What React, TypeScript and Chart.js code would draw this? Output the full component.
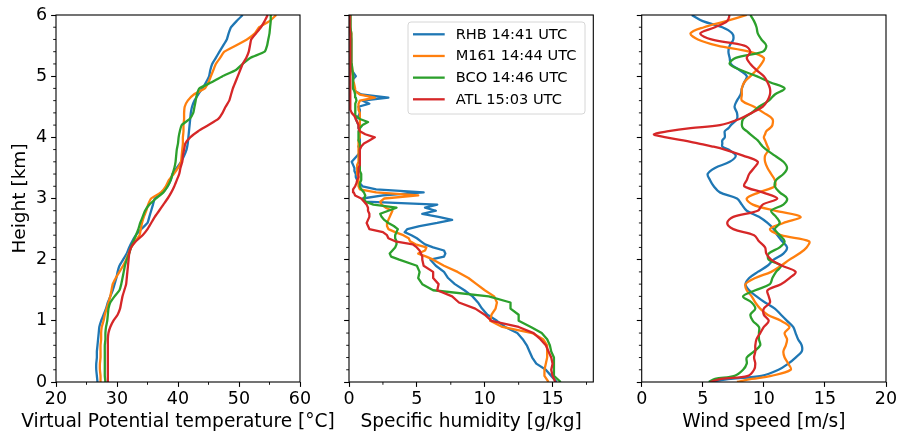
import React, { useEffect, useRef } from "react";
import { Chart, registerables } from "chart.js";

Chart.register(...registerables);

// ---------- data ----------
const SERIES_LABELS = ["RHB 14:41 UTC", "M161 14:44 UTC", "BCO 14:46 UTC", "ATL 15:03 UTC"];
const SERIES_COLORS = ["#1f77b4", "#ff7f0e", "#2ca02c", "#d62728"];

// panel 1: virtual potential temperature [°C]
const H1 = [0, 0.1, 0.2, 0.3, 0.4, 0.5, 0.6, 0.7, 0.8, 0.9, 1.0, 1.1, 1.2, 1.3, 1.4, 1.5, 1.6, 1.7, 1.8, 1.9,
  2.0, 2.1, 2.2, 2.3, 2.4, 2.5, 2.6, 2.7, 2.8, 2.9, 3.0, 3.1, 3.2, 3.3, 3.4, 3.5, 3.6, 3.7, 3.8, 3.9,
  4.0, 4.1, 4.2, 4.3, 4.4, 4.5, 4.6, 4.7, 4.8, 4.9, 5.0, 5.1, 5.2, 5.3, 5.4, 5.5, 5.6, 5.7, 5.8, 5.9, 6.0];
const THETA_RHB = [26.8, 26.7, 26.6, 26.6, 26.7, 26.7, 26.8, 26.9, 27.0, 27.1, 27.4, 27.8, 28.2, 28.5, 28.9, 29.3, 29.6, 29.9, 30.1, 30.4,
  31.0, 31.6, 32.0, 32.5, 33.1, 34.0, 35.0, 35.3, 35.6, 35.9, 36.2, 37.5, 38.3, 38.8, 39.1, 39.8, 40.5, 41.0, 41.4, 41.6,
  41.7, 41.8, 41.9, 42.0, 42.1, 42.3, 42.7, 43.3, 44.0, 44.6, 45.1, 45.3, 45.6, 46.2, 46.8, 47.4, 48.0, 48.3, 48.7, 49.6, 50.6];
const THETA_M161 = [27.3, 27.3, 27.2, 27.2, 27.3, 27.3, 27.3, 27.4, 27.4, 27.5, 27.8, 28.0, 28.3, 28.6, 28.9, 29.1, 29.3, 29.8, 30.4, 31.0,
  31.5, 31.9, 32.3, 33.0, 33.7, 33.9, 34.1, 34.4, 34.8, 35.1, 35.6, 37.2, 38.0, 38.5, 39.3, 40.0, 40.5, 40.6, 40.7, 40.8,
  40.8, 40.9, 40.9, 41.0, 41.0, 41.1, 41.6, 42.6, 44.4, 45.0, 45.4, 45.8, 46.2, 46.9, 47.6, 49.5, 51.3, 52.6, 53.3, 55.0, 56.1];
const THETA_BCO = [28.1, 28.0, 28.0, 28.0, 28.0, 28.0, 28.0, 28.1, 28.1, 28.2, 28.4, 28.5, 28.6, 28.9, 29.6, 30.4, 30.7, 30.9, 31.1, 31.3,
  31.6, 32.0, 32.3, 32.7, 33.1, 33.5, 33.8, 34.2, 34.6, 35.3, 36.4, 37.6, 38.3, 38.8, 39.1, 39.4, 39.6, 39.7, 39.8, 40.0,
  40.1, 40.3, 40.6, 41.9, 42.5, 42.7, 42.9, 43.1, 43.5, 45.5, 47.3, 49.5, 50.6, 51.9, 54.2, 54.6, 54.8, 55.0, 55.1, 55.2, 55.2];
const THETA_ATL = [28.5, 28.5, 28.5, 28.5, 28.5, 28.5, 28.5, 28.5, 28.6, 28.9, 29.4, 30.1, 30.5, 30.7, 30.9, 31.2, 31.5, 31.6, 31.7, 31.8,
  31.9, 32.0, 32.3, 33.1, 34.2, 35.0, 35.6, 36.2, 36.9, 37.6, 38.3, 38.9, 39.4, 39.8, 40.2, 40.4, 40.7, 40.8, 41.0, 41.2,
  42.0, 43.3, 45.0, 46.6, 47.3, 47.8, 48.4, 48.7, 49.0, 49.4, 49.8, 50.2, 50.6, 51.2, 51.6, 51.8, 52.0, 52.8, 53.6, 54.2, 54.7];

// panel 2: specific humidity [g/kg]
const H2 = [0, 0.1, 0.2, 0.3, 0.4, 0.5, 0.6, 0.7, 0.8, 0.9, 1.0, 1.1, 1.2, 1.3, 1.4, 1.5, 1.6, 1.7, 1.8, 1.9,
  2.0, 2.05, 2.1, 2.15, 2.2, 2.25, 2.3, 2.35, 2.4, 2.45, 2.5, 2.55, 2.6, 2.65, 2.7, 2.75, 2.8, 2.85, 2.9, 2.95,
  3.0, 3.05, 3.1, 3.15, 3.2, 3.25, 3.3, 3.35, 3.4, 3.45, 3.5, 3.55, 3.6, 3.65, 3.7, 3.75, 3.8, 3.85, 3.9, 3.95,
  4.0, 4.05, 4.1, 4.15, 4.2, 4.25, 4.3, 4.35, 4.4, 4.45, 4.5, 4.55, 4.6, 4.65, 4.7, 4.75, 4.8, 4.85, 4.9, 4.95,
  5.0, 5.1, 5.2, 5.3, 5.4, 5.5, 5.6, 5.7, 5.8, 5.9, 6.0];
const Q_RHB = [15.3, 14.9, 14.5, 13.8, 13.5, 13.3, 13.1, 12.8, 12.4, 11.5, 10.9, 10.2, 9.8, 9.5, 9.1, 8.5, 7.8, 7.3, 7.0, 6.4,
  6.0, 7.0, 7.1, 7.0, 6.2, 5.6, 5.3, 5.0, 4.6, 4.1, 4.3, 5.2, 6.5, 7.6, 6.6, 5.4, 6.4, 5.6, 6.5, 1.2,
  1.0, 2.5, 5.5, 2.0, 1.0, 0.8, 0.6, 0.5, 0.5, 0.4, 0.4, 0.3, 0.2, 0.4, 0.6, 0.8, 0.8, 0.7, 0.8, 0.8,
  0.8, 0.8, 0.8, 0.7, 0.7, 0.6, 0.5, 0.7, 0.8, 0.8, 0.7, 1.5, 1.0, 2.9, 0.9, 0.5, 0.3, 0.3, 0.3, 0.3,
  0.5, 0.2, 0.2, 0.2, 0.15, 0.15, 0.15, 0.1, 0.1, 0.1, 0.1];
const Q_M161 = [14.7, 14.4, 14.4, 14.5, 14.6, 14.6, 14.6, 14.3, 13.5, 11.3, 10.4, 10.5, 10.8, 10.9, 10.7, 10.0, 9.4, 8.8, 8.0, 7.0,
  6.2, 5.7, 5.1, 5.6, 5.7, 4.9, 4.5, 4.4, 4.0, 3.4, 2.9, 2.8, 2.8, 2.9, 3.0, 3.1, 3.2, 2.7, 2.4, 2.3,
  2.6, 5.1, 2.0, 0.8, 0.7, 0.7, 0.7, 0.7, 0.6, 0.6, 0.6, 0.6, 0.7, 0.7, 0.7, 0.7, 0.7, 0.7, 0.7, 0.7,
  0.8, 0.8, 0.8, 0.8, 0.8, 0.8, 0.8, 0.8, 0.8, 0.7, 0.7, 0.7, 0.8, 1.9, 0.8, 0.5, 0.45, 0.4, 0.35, 0.3,
  0.3, 0.25, 0.2, 0.2, 0.2, 0.15, 0.15, 0.15, 0.1, 0.1, 0.1];
const Q_BCO = [15.6, 15.1, 15.1, 15.1, 15.1, 14.9, 14.8, 14.6, 14.2, 13.4, 12.5, 12.5, 11.9, 11.9, 10.3, 6.2, 5.4, 5.1, 5.2, 5.0,
  3.7, 3.1, 3.0, 3.2, 3.4, 3.5, 3.5, 3.4, 3.4, 3.5, 3.6, 3.3, 2.9, 2.6, 2.4, 2.3, 2.9, 3.5, 1.8, 1.2,
  1.1, 1.2, 1.1, 0.9, 0.8, 0.8, 0.9, 0.9, 0.9, 0.8, 0.8, 0.8, 0.8, 0.8, 0.8, 0.8, 0.8, 0.8, 0.8, 0.7,
  0.7, 0.7, 0.7, 0.8, 1.0, 1.4, 0.8, 0.5, 0.45, 0.45, 0.45, 0.5, 0.55, 0.5, 0.45, 0.4, 0.3, 0.3, 0.3, 0.3,
  0.3, 0.25, 0.2, 0.2, 0.2, 0.15, 0.15, 0.15, 0.1, 0.1, 0.1];
const Q_ATL = [15.2, 15.0, 14.9, 15.0, 14.9, 14.7, 14.5, 14.1, 13.6, 12.5, 10.5, 10.0, 9.3, 8.1, 7.6, 6.5, 6.6, 6.2, 6.2, 5.5,
  5.4, 5.4, 5.3, 5.2, 5.0, 4.7, 3.4, 2.9, 2.8, 2.5, 1.5, 1.4, 1.3, 1.4, 1.5, 1.5, 1.4, 1.4, 1.3, 1.1,
  0.9, 0.45, 0.35, 0.3, 0.45, 0.55, 0.6, 0.7, 0.7, 0.7, 0.7, 0.8, 0.8, 0.8, 0.8, 0.8, 0.8, 0.9, 1.1, 1.5,
  1.9, 1.2, 0.8, 0.7, 0.7, 0.6, 0.5, 0.4, 0.2, 0.1, 0.1, 0.1, 0.1, 0.1, 0.1, 0.1, 0.1, 0.1, 0.1, 0.1,
  0.1, 0.1, 0.1, 0.1, 0.08, 0.08, 0.08, 0.08, 0.05, 0.05, 0.05];

// panel 3: wind speed [m/s]
const H3 = [0, 0.05, 0.1, 0.2, 0.3, 0.4, 0.5, 0.6, 0.7, 0.8, 0.9, 1.0, 1.1, 1.2, 1.3, 1.4, 1.5, 1.6, 1.7, 1.8, 1.9,
  2.0, 2.1, 2.2, 2.3, 2.4, 2.5, 2.6, 2.7, 2.8, 2.9, 3.0, 3.1, 3.2, 3.3, 3.4, 3.5, 3.6, 3.7, 3.8,
  3.85, 3.9, 3.95, 4.0, 4.05, 4.1, 4.15, 4.2,
  4.3, 4.4, 4.5, 4.6, 4.7, 4.8, 4.9, 5.0, 5.1, 5.2, 5.3, 5.4, 5.5, 5.6, 5.7, 5.8, 5.9, 6.0];
const W_RHB = [5.5, 7.3, 9.8,
  11.2, 12.0, 12.6, 13.1, 13.1, 12.8, 12.6, 12.4, 11.9, 11.4, 10.9, 10.1, 9.4, 8.8, 8.5, 8.8, 9.5, 10.3,
  10.8, 11.6, 11.9, 11.5, 11.1, 10.8, 10.3, 9.6, 8.6, 8.2, 7.8, 6.4, 5.9, 5.6, 5.4, 6.0, 7.2, 7.7, 7.1,
  6.6, 6.6, 6.6, 6.8, 6.8, 6.8, 7.1, 7.3,
  7.8, 7.8, 7.6, 7.8, 8.1, 8.2, 8.4, 8.6, 8.0, 7.3, 7.2, 7.1, 7.2, 7.5, 7.4, 6.6, 5.0, 4.1];
const W_M161 = [7.8, 9.0, 10.6,
  12.2, 12.0, 11.7, 11.6, 11.8, 11.9, 11.7, 12.1, 11.4, 10.3, 9.7, 9.3, 9.0, 8.6, 8.5, 9.3, 10.6, 11.4,
  12.1, 12.9, 13.5, 13.7, 11.4, 10.5, 11.6, 13.0, 10.9, 9.1, 8.6, 9.6, 10.9, 10.9, 10.6, 10.3, 10.1, 10.1, 10.4,
  10.3, 10.2, 10.1, 10.0, 10.1, 10.2, 10.5, 10.7,
  10.7, 10.0, 9.2, 8.2, 8.2, 8.2, 8.4, 8.9, 9.4, 9.8, 10.0, 8.8, 6.2, 4.6, 4.0, 5.1, 6.9, 8.6];
const W_BCO = [5.5, 6.0, 7.6,
  8.3, 8.6, 8.6, 9.2, 9.7, 9.6, 9.6, 9.6, 9.1, 8.9, 9.3, 9.0, 8.3, 9.3, 10.5, 10.7, 11.0, 11.4,
  10.4, 10.4, 11.3, 11.7, 11.3, 10.9, 11.3, 11.0, 10.6, 11.6, 11.9, 11.3, 10.9, 11.0, 11.6, 11.9, 11.6, 10.9, 10.2,
  9.9, 9.7, 9.5, 9.2, 8.9, 8.6, 8.3, 8.2,
  8.3, 9.0, 9.6, 10.4, 10.9, 11.7, 10.5, 9.4, 8.1, 7.2, 7.7, 9.9, 10.2, 9.8, 9.5, 9.4, 9.2, 8.9];
const W_ATL = [5.6, 6.5, 8.7,
  9.2, 9.3, 9.2, 9.3, 9.3, 9.4, 9.7, 10.0, 10.4, 10.0, 10.0, 10.5, 10.4, 10.3, 11.4, 12.1, 12.6, 11.5,
  10.6, 10.2, 10.1, 9.6, 9.2, 7.5, 7.0, 7.5, 9.5, 9.9, 11.1, 9.9, 8.4, 8.6, 8.8, 9.2, 9.5, 8.3, 6.8,
  5.8, 4.6, 3.4, 2.0, 1.0, 2.2, 4.0, 6.4,
  8.0, 9.0, 9.9, 10.3, 10.5, 10.5, 10.3, 10.0, 9.4, 8.9, 8.6, 8.9, 8.4, 5.7, 4.8, 6.0, 7.0, 7.2];

// axis ticks
const Y_TICKS = [0, 1, 2, 3, 4, 5, 6];
const Y_MINOR = [0.2, 0.4, 0.6, 0.8, 1.2, 1.4, 1.6, 1.8, 2.2, 2.4, 2.6, 2.8, 3.2, 3.4, 3.6, 3.8, 4.2, 4.4, 4.6, 4.8, 5.2, 5.4, 5.6, 5.8];
const X1_TICKS = [20, 30, 40, 50, 60];
const X1_MINOR = [25, 35, 45, 55];
const X2_TICKS = [0, 5, 10, 15];
const X2_MINOR = [2.5, 7.5, 12.5, 17.5];
const X3_TICKS = [0, 5, 10, 15, 20];
const X3_MINOR: number[] = [];

const X_TITLES = ["Virtual Potential temperature [°C]", "Specific humidity [g/kg]", "Wind speed [m/s]"];
const Y_TITLE = "Height [km]";

// ---------- layout ----------
const W = 910;
const H = 443;
const FONT = "'DejaVu Sans', 'DejaVu Sans Book', sans-serif";
const PLOT_TOP = 15;
const PLOT_BOTTOM = 382;

Chart.defaults.font.family = FONT;
Chart.defaults.color = "#000";

const framePlugin = {
  id: "frame",
  afterDraw(chart: any, _args: any, opts: any) {
    const { ctx, chartArea: a, scales } = chart;
    ctx.save();
    ctx.strokeStyle = "#000";
    ctx.lineWidth = 1.1;
    ctx.strokeRect(a.left, a.top, a.right - a.left, a.bottom - a.top);
    ctx.lineWidth = 0.9;
    ctx.beginPath();
    for (const v of opts.yMinor || []) {
      const y = scales.y.getPixelForValue(v);
      ctx.moveTo(a.left, y);
      ctx.lineTo(a.left - 2.8, y);
    }
    for (const v of opts.xMinor || []) {
      const x = scales.x.getPixelForValue(v);
      ctx.moveTo(x, a.bottom);
      ctx.lineTo(x, a.bottom + 2.8);
    }
    ctx.stroke();
    ctx.fillStyle = "#000";
    ctx.font = `18.6px ${FONT}`;
    ctx.textAlign = "center";
    ctx.textBaseline = "alphabetic";
    ctx.fillText(opts.xTitle, (a.left + a.right) / 2, a.bottom + 44.5);
    ctx.restore();
  },
};

const boxLegendPlugin = {
  id: "boxLegend",
  afterDatasetsDraw(chart: any, _args: any, opts: any) {
    if (!opts.show) return;
    const { ctx, chartArea: a } = chart;
    const w = 177;
    const h = 92;
    const x0 = a.right - 8.3 - w;
    const y0 = a.top + 7;
    ctx.save();
    ctx.beginPath();
    if (ctx.roundRect) ctx.roundRect(x0, y0, w, h, 3);
    else ctx.rect(x0, y0, w, h);
    ctx.fillStyle = "rgba(255,255,255,0.8)";
    ctx.fill();
    ctx.strokeStyle = "#d6d6d6";
    ctx.lineWidth = 1;
    ctx.stroke();
    ctx.font = `14.6px ${FONT}`;
    ctx.textBaseline = "middle";
    ctx.textAlign = "left";
    chart.data.datasets.forEach((ds: any, i: number) => {
      const cy = y0 + 12.3 + i * 21.67;
      ctx.strokeStyle = ds.borderColor;
      ctx.lineWidth = 2.3;
      ctx.beginPath();
      ctx.moveTo(x0 + 5, cy);
      ctx.lineTo(x0 + 36.7, cy);
      ctx.stroke();
      ctx.fillStyle = "#000";
      ctx.fillText(ds.label, x0 + 47.7, cy + 0.5);
    });
    ctx.restore();
  },
};

type Panel = {
  heights: number[];
  series: number[][];
  xMin: number;
  xMax: number;
  xTicks: number[];
  xMinor: number[];
  xTitle: string;
  plotLeft: number;
  plotRight: number;
  yAxisWidth: number;
  showYLabels: boolean;
  showLegend: boolean;
  tension: number;
};

const PANELS: Panel[] = [
  {
    heights: H1, series: [THETA_RHB, THETA_M161, THETA_BCO, THETA_ATL],
    xMin: 20, xMax: 60, xTicks: X1_TICKS, xMinor: X1_MINOR, xTitle: X_TITLES[0],
    plotLeft: 56, plotRight: 300, yAxisWidth: 56, showYLabels: true, showLegend: false, tension: 0.15,
  },
  {
    heights: H2, series: [Q_RHB, Q_M161, Q_BCO, Q_ATL],
    xMin: 0, xMax: 18, xTicks: X2_TICKS, xMinor: X2_MINOR, xTitle: X_TITLES[1],
    plotLeft: 349, plotRight: 593.3, yAxisWidth: 10, showYLabels: false, showLegend: true, tension: 0,
  },
  {
    heights: H3, series: [W_RHB, W_M161, W_BCO, W_ATL],
    xMin: 0, xMax: 20, xTicks: X3_TICKS, xMinor: X3_MINOR, xTitle: X_TITLES[2],
    plotLeft: 641.7, plotRight: 886, yAxisWidth: 10, showYLabels: false, showLegend: false, tension: 0.35,
  },
];

function makeConfig(p: Panel): any {
  return {
    type: "scatter",
    data: {
      datasets: p.series.map((vals, i) => ({
        label: SERIES_LABELS[i],
        data: vals.map((v, k) => ({ x: v, y: p.heights[k] })),
        borderColor: SERIES_COLORS[i],
        backgroundColor: SERIES_COLORS[i],
        borderWidth: 2.3,
        pointRadius: 0,
        pointHoverRadius: 0,
        showLine: true,
        tension: p.tension,
        order: 3 - i,
        clip: 0,
        borderJoinStyle: "round",
        borderCapStyle: "butt",
      })),
    },
    options: {
      responsive: false,
      maintainAspectRatio: false,
      animation: false,
      events: [],
      layout: {
        padding: { left: p.plotLeft - p.yAxisWidth, right: W - p.plotRight, top: PLOT_TOP, bottom: 0 },
      },
      plugins: {
        legend: { display: false },
        tooltip: { enabled: false },
        title: { display: false },
        frame: { yMinor: Y_MINOR, xMinor: p.xMinor, xTitle: p.xTitle },
        boxLegend: { show: p.showLegend },
      },
      scales: {
        x: {
          type: "linear",
          position: "bottom",
          min: p.xMin,
          max: p.xMax,
          afterBuildTicks: (s: any) => { s.ticks = p.xTicks.map((v) => ({ value: v })); },
          afterFit: (s: any) => { s.height = H - PLOT_BOTTOM; },
          grid: { display: true, drawOnChartArea: false, drawTicks: true, tickLength: 4.9, tickWidth: 1.1, tickColor: "#000" },
          border: { display: false },
          ticks: { font: { size: 17.5 }, color: "#000", padding: 2, maxRotation: 0, autoSkip: false },
        },
        y: {
          type: "linear",
          position: "left",
          min: 0,
          max: 6,
          afterBuildTicks: (s: any) => { s.ticks = Y_TICKS.map((v) => ({ value: v })); },
          afterFit: (s: any) => { s.width = p.yAxisWidth; },
          grid: { display: true, drawOnChartArea: false, drawTicks: true, tickLength: 4.9, tickWidth: 1.1, tickColor: "#000" },
          border: { display: false },
          ticks: { display: p.showYLabels, font: { size: 17.5 }, color: "#000", padding: 4, autoSkip: false },
          title: {
            display: p.showYLabels,
            text: Y_TITLE,
            color: "#000",
            font: { size: 18.5 },
            padding: { top: 9, bottom: 0 },
          },
        },
      },
    },
    plugins: [framePlugin, boxLegendPlugin],
  };
}

function PanelCanvas({ panel }: { panel: Panel }) {
  const ref = useRef<HTMLCanvasElement | null>(null);
  useEffect(() => {
    if (!ref.current) return;
    const chart = new Chart(ref.current, makeConfig(panel));
    return () => chart.destroy();
  }, [panel]);
  return (
    <canvas
      ref={ref}
      width={W}
      height={H}
      style={{ position: "absolute", left: 0, top: 0, width: W, height: H }}
    />
  );
}

export default function App() {
  return (
    <div style={{ position: "fixed", left: 0, top: 0, width: W, height: H, background: "#fff" }}>
      {PANELS.map((p, i) => (
        <PanelCanvas key={i} panel={p} />
      ))}
    </div>
  );
}
